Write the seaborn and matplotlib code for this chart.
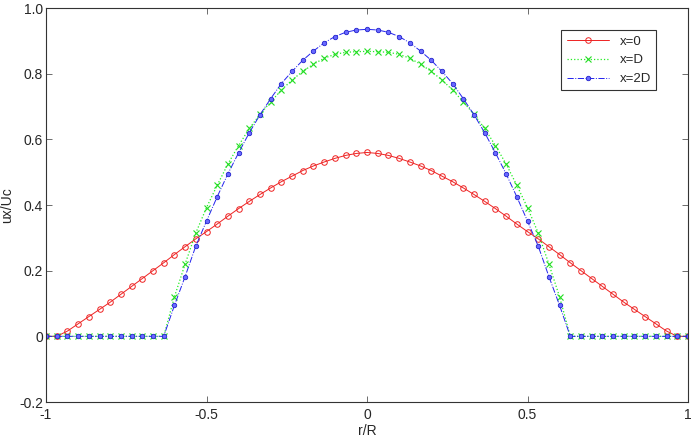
import numpy as np
import pandas as pd
import matplotlib
matplotlib.use("Agg")
import matplotlib.pyplot as plt
import seaborn as sns

# radial positions r/R (61 stations)
r = np.round(np.arange(-30, 31) / 30, 4)

u_x0 = [0, 0, 0.016, 0.038, 0.060, 0.082, 0.104, 0.128, 0.152, 0.176, 0.200,
        0.224, 0.249, 0.273, 0.297, 0.319, 0.342, 0.366, 0.389, 0.411, 0.432,
        0.452, 0.471, 0.488, 0.505, 0.519, 0.531, 0.542, 0.551, 0.557, 0.560,
        0.557, 0.551, 0.542, 0.531, 0.519, 0.505, 0.488, 0.471, 0.452, 0.432,
        0.411, 0.389, 0.366, 0.342, 0.319, 0.297, 0.273, 0.249, 0.224, 0.200,
        0.176, 0.152, 0.128, 0.104, 0.082, 0.060, 0.038, 0.016, 0, 0]

u_xD = [0, 0, 0, 0, 0, 0, 0, 0, 0, 0, 0, 0,
        0.120, 0.220, 0.315, 0.392, 0.460, 0.525, 0.581, 0.633, 0.676, 0.714,
        0.750, 0.781, 0.807, 0.829, 0.847, 0.859, 0.865, 0.867, 0.868,
        0.867, 0.865, 0.859, 0.847, 0.829, 0.807, 0.781, 0.750, 0.714, 0.676,
        0.633, 0.581, 0.525, 0.460, 0.392, 0.315, 0.220, 0.120,
        0, 0, 0, 0, 0, 0, 0, 0, 0, 0, 0, 0]

u_x2D = [0, 0, 0, 0, 0, 0, 0, 0, 0, 0, 0, 0,
         0.094, 0.182, 0.275, 0.351, 0.425, 0.495, 0.559, 0.620, 0.675, 0.724,
         0.770, 0.807, 0.841, 0.869, 0.894, 0.913, 0.926, 0.933, 0.935,
         0.933, 0.926, 0.913, 0.894, 0.869, 0.841, 0.807, 0.770, 0.724, 0.675,
         0.620, 0.559, 0.495, 0.425, 0.351, 0.275, 0.182, 0.094,
         0, 0, 0, 0, 0, 0, 0, 0, 0, 0, 0, 0]

labels = ["x=0", "x=D", "x=2D"]

sns.set_style("white")
plt.rcParams["font.family"] = ["Liberation Sans", "DejaVu Sans"]

fig = plt.figure(figsize=(6.97, 4.40), dpi=100)
ax = fig.add_axes([46 / 697, 1 - 402 / 440, (688 - 46) / 697, (402 - 8) / 440])

sns.lineplot(x=r, y=u_x0, ax=ax, color="#ee2222", linestyle="-", linewidth=0.7,
             marker="o", markersize=4, markerfacecolor="none",
             markeredgecolor="#ee2222", markeredgewidth=0.7, label=labels[0])
sns.lineplot(x=r, y=u_xD, ax=ax, color="#22ee22", linestyle=":", linewidth=0.9,
             marker="x", markersize=4, markeredgecolor="#22dd22",
             markeredgewidth=0.8, label=labels[1])
sns.lineplot(x=r, y=u_x2D, ax=ax, color="#2222ee", linestyle="-.", linewidth=0.7,
             marker="o", markersize=3.2, markerfacecolor="#6a6aff",
             markeredgecolor="#2222cc", markeredgewidth=0.6, label=labels[2])

ax.set_xlim(-1, 1)
ax.set_ylim(-0.2, 1.0)
ax.set_xticks([-1, -0.5, 0, 0.5, 1])
ax.set_xticklabels(["-1", "-0.5", "0", "0.5", "1"])
ax.set_yticks([-0.2, 0, 0.2, 0.4, 0.6, 0.8, 1.0])
ax.set_yticklabels(["-0.2", "0", "0.2", "0.4", "0.6", "0.8", "1.0"])
ax.tick_params(direction="in", length=4, width=0.6, color="#555555",
               labelsize=10, pad=2, top=True, right=True,
               bottom=True, left=True)
ax.tick_params(axis="x", pad=4)
for s in ax.spines.values():
    s.set_color("#333333")
    s.set_linewidth(0.8)

ax.set_xlabel("r/R", fontsize=10, labelpad=2)
ax.set_ylabel("ux/Uc", fontsize=10, labelpad=4)

leg = ax.legend(loc="upper right", bbox_to_anchor=(656 / 697, 1 - 30 / 440),
                bbox_transform=fig.transFigure, borderaxespad=0,
                fontsize=9.5, frameon=True, fancybox=False, handlelength=3.2,
                edgecolor="black")
leg.get_frame().set_linewidth(0.8)

fig.savefig("out.png", dpi=100)
